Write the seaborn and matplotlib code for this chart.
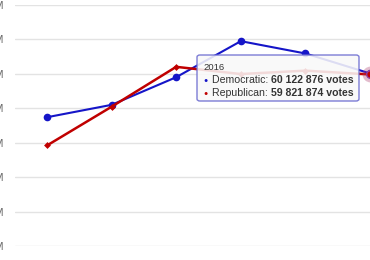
import pandas as pd
import numpy as np
import matplotlib
matplotlib.use('Agg')
import matplotlib.pyplot as plt
import seaborn as sns
from matplotlib.patches import FancyBboxPatch

# Popular vote per election (votes)
years = [1996, 2000, 2004, 2008, 2012, 2016]
democratic = [47400125, 50999897, 59028444, 69498516, 65915795, 60122876]
republican = [39198755, 50456002, 62040610, 59948323, 60933504, 59821874]
y_ticks = [10e6, 20e6, 30e6, 40e6, 50e6, 60e6, 70e6, 80e6]
y_labels = ['10M', '20M', '30M', '40M', '50M', '60M', '70M', '80M']

df = pd.DataFrame({'year': years * 2,
                   'votes': democratic + republican,
                   'party': ['Democratic'] * len(years) + ['Republican'] * len(years)})

sns.set_style('white')
plt.rcParams['font.family'] = ['Liberation Sans', 'DejaVu Sans']

W, H = 370, 260
fig = plt.figure(figsize=(W / 100, H / 100), dpi=100)
ax = fig.add_axes([15 / W, 1 - 246 / H, 1 - 15 / W, (246 - 5) / H])

blue = '#1515c8'
red = '#c00000'

sns.lineplot(data=df[df.party == 'Democratic'], x='year', y='votes', ax=ax,
             color=blue, lw=1.5, marker='o', markersize=5.5, markeredgewidth=0,
             clip_on=False, zorder=3)
sns.lineplot(data=df[df.party == 'Republican'], x='year', y='votes', ax=ax,
             color=red, lw=1.8, marker='D', markersize=3.5, markeredgewidth=0,
             clip_on=False, zorder=4)

# hover halo on the last point
ax.scatter([years[-1]], [republican[-1]], s=130, color='#b04070', alpha=0.35,
           lw=0, zorder=5, clip_on=False)
ax.scatter([years[-1]], [republican[-1]], s=30, color=red, lw=1, edgecolor='#9040a0',
           zorder=6, clip_on=False)

ax.set_xlim(1996 - 32 / 64.6 * 4, 2016)
ax.set_ylim(10e6, 80e6)
ax.set_yticks(y_ticks)
ax.set_yticklabels(y_labels)
ax.set_xticks([])
ax.tick_params(axis='y', length=0, pad=8, labelsize=8, labelcolor='#666666')
ax.grid(axis='y', color='#e3e3e3', lw=1)
ax.set_xlabel('')
ax.set_ylabel('')
for s in ax.spines.values():
    s.set_visible(False)

# tooltip
box = FancyBboxPatch((197 / W, 1 - 101 / H), (359 - 197) / W, (101 - 55) / H,
                     boxstyle='round,pad=0,rounding_size=0.008',
                     transform=fig.transFigure, facecolor='#f9f9f9', alpha=0.88,
                     edgecolor='#6a6ad0', lw=1, zorder=10)
fig.patches.append(box)

fs = 7.6
fig.text(203 / W, 1 - 67 / H, '2016', fontsize=6.8, color='#333333', va='center', zorder=11)
rows = [('Democratic', democratic[-1], blue, 80), ('Republican', republican[-1], red, 93)]
fig.canvas.draw()
r = fig.canvas.get_renderer()
for name, val, col, ypix in rows:
    fig.text(206 / W, 1 - ypix / H, '\u25cf', fontsize=5, color=col, va='center',
             ha='center', zorder=11)
    t = fig.text(212 / W, 1 - ypix / H, name + ': ', fontsize=fs, color='#333333',
                 va='center', zorder=11)
    bb = t.get_window_extent(r)
    vtxt = '{:,}'.format(val).replace(',', ' ') + ' votes'
    fig.text(bb.x1 / W, 1 - ypix / H, vtxt, fontsize=fs, color='#333333',
             fontweight='bold', va='center', zorder=11)

fig.savefig('out.png', dpi=100)
